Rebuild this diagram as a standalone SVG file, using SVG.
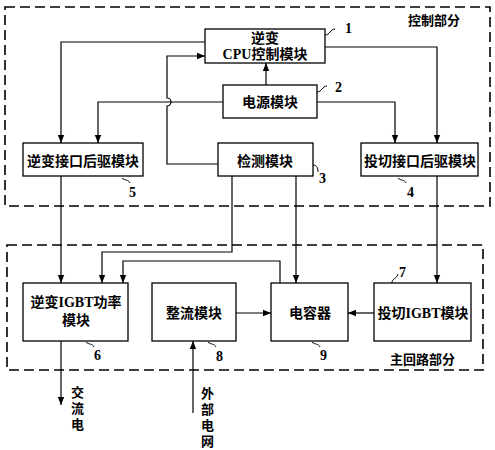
<svg xmlns="http://www.w3.org/2000/svg" width="495" height="450" viewBox="0 0 495 450">
<defs>
<marker id="ah" viewBox="0 0 10 10" refX="10" refY="5" markerWidth="8" markerHeight="8" markerUnits="userSpaceOnUse" orient="auto">
<path d="M0,1 L10,5 L0,9 Z" fill="#000"/>
</marker>
</defs>
<style>
.box{fill:#fff;stroke:#000;stroke-width:1.3}
.dash{fill:none;stroke:#000;stroke-width:1.6;stroke-dasharray:10,5}
.t{font-family:"Liberation Serif","Noto Sans CJK SC",serif;font-size:14px;font-weight:bold;text-anchor:middle;fill:#000}
.s{font-family:"Liberation Serif","Noto Sans CJK SC",serif;font-size:13px;font-weight:bold;fill:#000}
.n{font-family:"Liberation Serif",serif;font-size:14px;font-weight:bold;fill:#000}
.c{fill:none;stroke:#000;stroke-width:1.2}
.ld{fill:none;stroke:#000;stroke-width:1}
</style>
<rect class="dash" x="5" y="7" width="485" height="199"/>
<rect class="dash" x="7" y="245" width="476" height="125"/>
<text class="s" x="408" y="25">控制部分</text>
<text class="s" x="390" y="364">主回路部分</text>

<g id="connectors">
<path class="c" d="M205,42 H61 V143" marker-end="url(#ah)"/>
<path class="c" d="M325,47 H437 V143" marker-end="url(#ah)"/>
<path class="c" d="M266,85 V63" marker-end="url(#ah)"/>
<path class="c" d="M223,102 H98 V143" marker-end="url(#ah)"/>
<path class="c" d="M317,102 H395 V143" marker-end="url(#ah)"/>
<path class="c" d="M218,164 H167 V106 a4,4 0 0 0 0,-8 V56 H205" marker-end="url(#ah)"/>
<path class="c" d="M61,176 V283" marker-end="url(#ah)"/>
<path class="c" d="M232,176 V252 H102 V283" marker-end="url(#ah)"/>
<path class="c" d="M296,176 V283" marker-end="url(#ah)"/>
<path class="c" d="M280,283 V261 H123 V283" marker-end="url(#ah)"/>
<path class="c" d="M437,176 V283" marker-end="url(#ah)"/>
<path class="c" d="M236,313 H271" marker-end="url(#ah)"/>
<path class="c" d="M374,313 H348" marker-end="url(#ah)"/>
<path class="c" d="M61,341 V405" marker-end="url(#ah)"/>
<path class="c" d="M193,413 V341" marker-end="url(#ah)"/>
<path class="ld" d="M325,35 c5,0 5,-6 10,-6"/>
<path class="ld" d="M317,92 c5,0 5,-6 10,-6"/>
<path class="ld" d="M313,165 c5,0 5,5 5,7"/>
<path class="ld" d="M122,178 c3,3 6,1 8,5"/>
<path class="ld" d="M398,178 c3,3 6,1 8,5"/>
<path class="ld" d="M86,342 c3,3 6,1 8,5"/>
<path class="ld" d="M208,342 c3,3 6,1 8,5"/>
<path class="ld" d="M312,342 c3,3 6,1 8,5"/>
<path class="ld" d="M392,283 c0,-5 4,-3 6,-9"/>
</g>

<g id="n1"><rect class="box" x="205" y="29" width="120" height="34"/><text class="t" x="265" y="43">逆变</text><text class="t" x="265" y="59">CPU控制模块</text><text class="n" x="345" y="33">1</text></g>
<g id="n2"><rect class="box" x="223" y="85" width="94" height="33"/><text class="t" x="270" y="107">电源模块</text><text class="n" x="335" y="92">2</text></g>
<g id="n5"><rect class="box" x="23" y="143" width="120" height="33"/><text class="t" x="83" y="166">逆变接口后驱模块</text><text class="n" x="129" y="197">5</text></g>
<g id="n3"><rect class="box" x="218" y="143" width="95" height="33"/><text class="t" x="265" y="166">检测模块</text><text class="n" x="319" y="183">3</text></g>
<g id="n4"><rect class="box" x="361" y="143" width="117" height="33"/><text class="t" x="420" y="166">投切接口后驱模块</text><text class="n" x="407" y="197">4</text></g>
<g id="n6"><rect class="box" x="23" y="283" width="105" height="58"/><text class="t" x="76" y="307">逆变IGBT功率</text><text class="t" x="76" y="325">模块</text><text class="n" x="94" y="360">6</text></g>
<g id="n8"><rect class="box" x="152" y="283" width="84" height="58"/><text class="t" x="194" y="318">整流模块</text><text class="n" x="216" y="361">8</text></g>
<g id="n9"><rect class="box" x="271" y="283" width="77" height="58"/><text class="t" x="310" y="318">电容器</text><text class="n" x="320" y="360">9</text></g>
<g id="n7"><rect class="box" x="374" y="283" width="97" height="58"/><text class="t" x="423" y="318">投切IGBT模块</text><text class="n" x="399" y="277">7</text></g>
<g id="ac"><text class="s" x="71" y="397">交</text><text class="s" x="71" y="413">流</text><text class="s" x="71" y="429">电</text></g>
<g id="grid"><text class="s" x="201" y="398">外</text><text class="s" x="201" y="414">部</text><text class="s" x="201" y="430">电</text><text class="s" x="201" y="446">网</text></g>
</svg>
